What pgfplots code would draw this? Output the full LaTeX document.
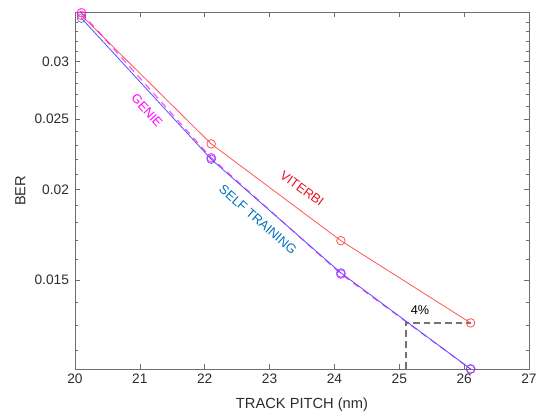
\documentclass[border=0pt]{standalone}
\usepackage{fontspec}
\setmainfont{Liberation Sans}
\usepackage{pgfplots}
\pgfplotsset{compat=1.18}
\definecolor{vitline}{RGB}{255,85,85}
\definecolor{vittext}{RGB}{235,20,35}
\definecolor{selfline}{RGB}{85,80,255}
\definecolor{selftext}{RGB}{0,114,189}
\definecolor{genie}{RGB}{255,0,255}
\definecolor{axgray}{RGB}{110,110,110}
\definecolor{dashgray}{RGB}{115,115,115}
\definecolor{txtgray}{RGB}{45,45,45}
\begin{document}
\begin{tikzpicture}
% keep the reference's margins
\path[use as bounding box] (-56.25pt,-34.5pt) rectangle (348pt,276.75pt);
\begin{axis}[
  scale only axis, width=340.5pt, height=267.2pt,
  ymode=log, xmin=20, xmax=27, ymin=0.01132, ymax=0.035,
  xtick={20,21,...,27},
  ytick={0.015,0.02,0.025,0.03}, yticklabels={0.015,0.02,0.025,0.03},
  minor ytick={0.012,0.013,0.014,0.016,0.017,0.018,0.019,0.021,0.022,0.023,0.024,0.026,0.027,0.028,0.029,0.031,0.032,0.033,0.034},
  tick align=inside, major tick length=3.5pt, minor tick length=2.2pt,
  axis line style={axgray, line width=0.6pt},
  every tick/.style={axgray, line width=0.5pt},
  tick label style={font=\fontsize{10.3}{12}\selectfont, text=txtgray},
  /pgf/number format/assume math mode=true,
  yticklabel style={xshift=-1pt},
  label style={font=\fontsize{11}{13}\selectfont, text=txtgray},
  xlabel={TRACK PITCH (nm)}, ylabel={BER},
  xlabel style={at={(axis description cs:0.5,0)}, anchor=center, yshift=-27pt},
  ylabel style={at={(axis description cs:-0.1205,0.5)}, anchor=center},
  clip=false,
]
% 4% marker
\addplot[dashgray, dashed, dash pattern=on 5pt off 3pt, line width=1.2pt] coordinates {(25.1,0.01132) (25.1,0.0131) (26.1,0.0131)};
% Viterbi
\addplot[vitline, line width=0.6pt, mark=o, mark size=3.2pt] coordinates {(20.1,0.0347) (22.1,0.0231) (24.1,0.0170) (26.1,0.0131)};
% Genie
\addplot[genie, opacity=0.7, dashed, dash pattern=on 5pt off 4pt, line width=0.9pt, mark=o, mark size=3.2pt, mark options={solid}] coordinates {(20.1,0.0350) (22.1,0.0221) (24.1,0.01530) (26.1,0.01132)};
% Self training
\addplot[selfline, line width=0.6pt, mark=o, mark size=3.2pt, mark options={opacity=0.8}] coordinates {(20.1,0.0344) (22.1,0.0220) (24.1,0.01535) (26.1,0.01132)};
\node[genie, rotate=-48, font=\fontsize{9.5}{10}\selectfont] at (axis cs:21.11,0.02566) {GENIE};
\node[selftext, rotate=-41, font=\fontsize{9.7}{10}\selectfont] at (axis cs:22.82,0.01818) {SELF TRAINING};
\node[vittext, rotate=-36, font=\fontsize{9.7}{10}\selectfont] at (axis cs:23.50,0.02005) {VITERBI};
\node[black, font=\fontsize{9.5}{10}\selectfont] at (axis cs:25.32,0.01364) {4\%};
\end{axis}
\end{tikzpicture}
\end{document}
